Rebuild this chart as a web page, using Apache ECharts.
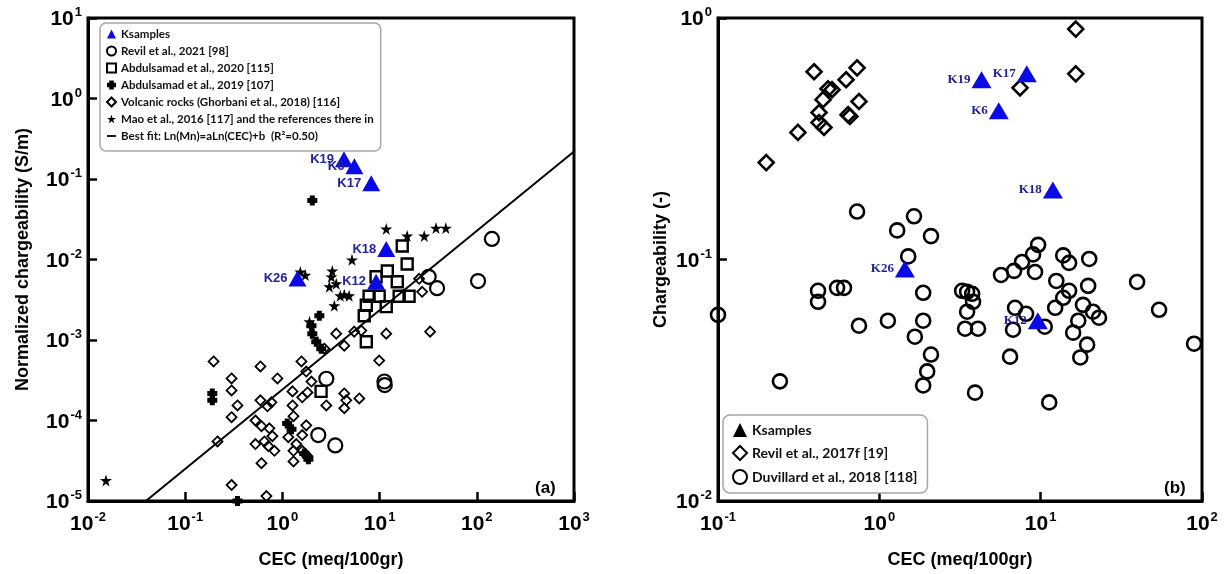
<!DOCTYPE html>
<html>
<head>
<meta charset="utf-8">
<script src="https://cdn.jsdelivr.net/npm/echarts@6/dist/echarts.min.js"></script>
<style>
html,body{margin:0;padding:0;background:#fff;}
#c{width:1228px;height:574px;}
</style>
</head>
<body>
<div id="c"></div>
<script>
// ---------- Panel (a) data : [CEC (meq/100gr), normalized chargeability (S/m)] ----------
const ksNamesA = ['K19','K6','K17','K18','K12','K26'];
const ksamplesA = [[4.3,0.176],[5.5,0.144],[8.2,0.0887],[11.7,0.0135],[9.2,0.0053],[1.43,0.0058]];
const revil2021 = [[143,0.018],[103,0.0054],[32,0.0061],[39,0.0044],[2.83,3.3e-4],[2.34,6.6e-5],[3.5,4.9e-5],[11.2,3.05e-4],[11.3,2.75e-4]];
const abdul2020 = [[17.1,0.0147],[19.2,0.0088],[12.0,0.0072],[9.2,0.0061],[15.2,0.0053],[20.1,0.0035],[15.9,0.0035],[7.8,0.0035],[9.9,0.0035],[7.3,0.0027],[11.7,0.0026],[6.95,0.002],[7.3,9.5e-4],[2.5,2.3e-4]];
const abdul2019 = [[2.03,0.054],[0.19,2.17e-4],[0.19,1.78e-4],[1.12,9.2e-5],[1.24,7.8e-5],[0.345,1.0e-5],[2.4,2.0e-3],[1.99,1.5e-3],[2.03,1.2e-3],[2.23,9.5e-4],[2.51,7.8e-4],[1.68,3.9e-5],[1.85,3.3e-5]];
const volcanic = [[0.196,5.41e-4],[0.594,4.69e-4],[0.30,3.33e-4],[0.30,2.36e-4],[0.345,1.54e-4],[0.30,1.10e-4],[0.215,5.5e-5],[0.594,1.78e-4],[0.889,3.33e-4],[1.57,5.41e-4],[1.76,4.06e-4],[0.702,1.50e-4],[0.528,1.00e-4],[0.609,8.5e-5],[0.735,8.0e-5],[0.528,5.1e-5],[0.653,5.5e-5],[0.789,6.4e-5],[0.718,4.8e-5],[0.828,4.2e-5],[0.609,2.95e-5],[0.30,1.58e-5],[0.685,1.15e-5],[1.27,2.30e-4],[1.60,1.94e-4],[1.27,1.54e-4],[1.30,1.13e-4],[1.15,6.2e-5],[1.60,6.6e-5],[1.39,5.1e-5],[1.30,4.2e-5],[1.30,3.1e-5],[1.81,3.6e-5],[1.76,8.7e-5],[1.81,2.23e-4],[2.83,1.54e-4],[4.33,2.17e-4],[4.54,1.78e-4],[4.33,1.42e-4],[6.18,1.88e-4],[1.99,3.05e-4],[3.58,1.20e-3],[6.48,1.31e-3],[11.7,1.20e-3],[27.4,3.97e-3],[33.1,1.27e-3],[9.9,5.56e-4],[5.48,1.27e-3],[4.33,8.5e-4],[2.70,7.8e-4],[25.5,5.75e-3],[1.60,4.2e-5],[0.771,1.68e-4]];
const mao2016 = [[0.0153,1.8e-5],[11.7,0.024],[19.2,0.0196],[28.8,0.0196],[38,0.0246],[48,0.0246],[5.2,0.0099],[1.53,0.007],[1.72,0.0064],[3.26,0.0072],[3.19,0.0061],[3.04,0.0046],[3.58,0.005],[4.33,0.00365],[4.86,0.00355],[3.94,0.00355],[3.42,0.00267],[1.9,0.00169]];
const bestFit = [[0.0394,1e-5],[1000,0.22]];

// ---------- Panel (b) data : [CEC (meq/100gr), chargeability (-)] ----------
const ksNamesB = ['K19','K6','K17','K18','K26','K12'];
const ksamplesB = [[4.3,0.555],[5.5,0.413],[8.2,0.587],[11.9,0.194],[1.44,0.0914],[9.6,0.0558]];
const revil2017f = [[0.394,0.599],[0.728,0.622],[0.622,0.555],[0.481,0.509],[0.509,0.505],[0.448,0.459],[0.748,0.451],[0.423,0.406],[0.640,0.398],[0.657,0.391],[0.423,0.369],[0.454,0.352],[0.313,0.336],[0.199,0.252],[16.5,0.90],[16.5,0.587],[7.45,0.514]];
const duvillard = [[0.728,0.158],[1.29,0.132],[1.64,0.151],[2.09,0.125],[1.51,0.103],[0.417,0.0742],[0.417,0.0668],[0.547,0.0763],[0.604,0.0763],[1.87,0.0728],[0.1,0.059],[0.748,0.0532],[1.13,0.0558],[1.87,0.0558],[1.66,0.0479],[2.09,0.0404],[1.98,0.0344],[1.87,0.0301],[0.242,0.0313],[3.26,0.0742],[3.50,0.0735],[3.76,0.0721],[3.81,0.0668],[3.50,0.0608],[3.40,0.0517],[4.09,0.0517],[3.92,0.0281],[6.46,0.0396],[6.74,0.0512],[6.94,0.0631],[8.12,0.0596],[10.6,0.0527],[12.3,0.0631],[5.68,0.0863],[6.84,0.0897],[7.67,0.0977],[8.97,0.105],[9.64,0.115],[9.23,0.0888],[12.5,0.0815],[11.3,0.0256],[13.8,0.104],[15.0,0.0968],[20.0,0.1005],[15.0,0.0742],[13.8,0.0694],[19.7,0.0778],[18.3,0.0649],[21.1,0.0608],[23.0,0.0574],[17.1,0.0558],[15.9,0.0498],[19.4,0.0444],[17.6,0.0393],[39.6,0.0807],[54.2,0.0619],[89.3,0.0448]];

// ---------- styles ----------
const FONT = "'Liberation Sans', Arial, sans-serif";
const STAR = 'path://M50,0 L61,35 L98,35 L68,57 L79,91 L50,70 L21,91 L32,57 L2,35 L39,35 Z';
const CROSS = 'path://M25,0 H75 V25 H100 V75 H75 V100 H25 V75 H0 V25 H25 Z';
const DASH = 'path://M0,0 M100,100 M0,40 L100,40 L100,60 L0,60 Z';
const BLUE = '#0a0ae6';
const open = (w) => ({color:'rgba(255,255,255,0)', borderColor:'#000', borderWidth:w, opacity:1});

function powLabel(v){
  const e = Math.round(Math.log10(v));
  return '{b|10}{s|' + e + '}';
}
const richLbl = {
  b:{fontSize:21, fontFamily:FONT, fontWeight:'bold', color:'#000', lineHeight:24, verticalAlign:'bottom'},
  s:{fontSize:13, fontFamily:FONT, fontWeight:'bold', color:'#000', lineHeight:24, verticalAlign:'top', padding:[0,0,0,1]}
};
function axisCommon(){
  return {
    type:'log', logBase:10,
    axisLine:{show:true, onZero:false, lineStyle:{color:'#000', width:3}},
    axisTick:{show:true, inside:true, length:9, lineStyle:{color:'#000', width:2.5}},
    splitLine:{show:false},
    minorTick:{show:false},
    axisLabel:{formatter:powLabel, rich:richLbl, showMinLabel:true, showMaxLabel:true, hideOverlap:false},
    nameLocation:'middle',
    nameTextStyle:{fontFamily:FONT, fontSize:18, fontWeight:'bold', color:'#000'}
  };
}

const xA = Object.assign(axisCommon(), {gridIndex:0, min:0.01, max:1000, name:'CEC (meq/100gr)', nameGap:50});
xA.axisLabel = Object.assign({}, xA.axisLabel, {margin:10});
const yA = Object.assign(axisCommon(), {gridIndex:0, min:1e-5, max:10, name:'Normalized chargeability (S/m)', nameGap:56});
yA.axisLabel = Object.assign({}, yA.axisLabel, {margin:6});
const xB = Object.assign(axisCommon(), {gridIndex:1, min:0.1, max:100, name:'CEC (meq/100gr)', nameGap:50});
xB.axisLabel = Object.assign({}, xB.axisLabel, {margin:10});
const yB = Object.assign(axisCommon(), {gridIndex:1, min:0.01, max:1, name:'Chargeability (-)', nameGap:48});
yB.axisLabel = Object.assign({}, yB.axisLabel, {margin:6});

const kLabelA = {show:true, position:'left', distance:1, formatter:'{b}', color:'#24249e', fontFamily:FONT, fontWeight:'bold', fontSize:13};
const kLabelB = {show:true, position:'left', distance:1, formatter:'{b}', color:'#1e1e96', fontFamily:"'Liberation Serif', 'Times New Roman', serif", fontWeight:'bold', fontSize:13};

const option = {
  animation:false,
  backgroundColor:'#fff',
  grid:[
    {left:88, top:18, width:486, height:485, show:true, borderColor:'#000', borderWidth:3, backgroundColor:'transparent'},
    {left:718, top:18, width:484, height:485, show:true, borderColor:'#000', borderWidth:3, backgroundColor:'transparent'}
  ],
  xAxis:[xA, xB],
  yAxis:[yA, yB],
  legend:[
    {
      left:100, top:23, orient:'vertical',
      itemWidth:9, itemHeight:9, itemGap:5,
      padding:[5,7,9,6],
      backgroundColor:'#fff', borderColor:'#a8a8a8', borderWidth:1.5, borderRadius:6,
      textStyle:{fontFamily:"Lato, 'Open Sans', sans-serif", fontWeight:'bold', fontSize:11.5, lineHeight:12, color:'#111'},
      data:[
        {name:'Ksamples'},
        {name:'Revil et al., 2021 [98]'},
        {name:'Abdulsamad et al., 2020 [115]'},
        {name:'Abdulsamad et al., 2019 [107]'},
        {name:'Volcanic rocks (Ghorbani et al., 2018) [116]'},
        {name:'Mao et al., 2016 [117] and the references there in'},
        {name:'Best fit: Ln(Mn)=aLn(CEC)+b  (R²=0.50)', icon:DASH}
      ]
    },
    {
      left:723, top:415, orient:'vertical',
      itemWidth:14, itemHeight:14, itemGap:8,
      padding:[8,10,8,9],
      backgroundColor:'#fff', borderColor:'#a8a8a8', borderWidth:1.5, borderRadius:7,
      textStyle:{fontFamily:"Lato, 'Open Sans', sans-serif", fontWeight:'bold', fontSize:14, lineHeight:14, color:'#111'},
      data:[
        {name:'Ksamples', itemStyle:{color:'#000'}},
        {name:'Revil et al., 2017f [19]'},
        {name:'Duvillard et al., 2018 [118]'}
      ]
    }
  ],
  series:[
    {name:'Volcanic rocks (Ghorbani et al., 2018) [116]', type:'scatter', xAxisIndex:0, yAxisIndex:0,
      symbol:'diamond', symbolSize:10, itemStyle:open(1.8), data:volcanic},
    {name:'Abdulsamad et al., 2020 [115]', type:'scatter', xAxisIndex:0, yAxisIndex:0,
      symbol:'rect', symbolSize:11, itemStyle:open(2.4), data:abdul2020},
    {name:'Revil et al., 2021 [98]', type:'scatter', xAxisIndex:0, yAxisIndex:0,
      symbol:'circle', symbolSize:14, itemStyle:open(2.2), data:revil2021},
    {name:'Abdulsamad et al., 2019 [107]', type:'scatter', xAxisIndex:0, yAxisIndex:0,
      symbol:CROSS, symbolSize:10, itemStyle:{color:'#000', opacity:1}, data:abdul2019},
    {name:'Mao et al., 2016 [117] and the references there in', type:'scatter', xAxisIndex:0, yAxisIndex:0,
      symbol:STAR, symbolSize:12, itemStyle:{color:'#000', opacity:1}, data:mao2016},
    {name:'Best fit: Ln(Mn)=aLn(CEC)+b  (R²=0.50)', type:'line', xAxisIndex:0, yAxisIndex:0,
      symbol:'none', lineStyle:{color:'#000', width:2}, itemStyle:{color:'#000'}, data:bestFit},
    {name:'Ksamples', type:'scatter', xAxisIndex:0, yAxisIndex:0,
      symbol:'triangle', symbolSize:[18,16], itemStyle:{color:BLUE, opacity:1}, label:kLabelA,
      data:ksamplesA.map((p,i)=>({name:ksNamesA[i], value:p}))},

    {name:'Revil et al., 2017f [19]', type:'scatter', xAxisIndex:1, yAxisIndex:1,
      symbol:'diamond', symbolSize:15, itemStyle:open(2.6), data:revil2017f},
    {name:'Duvillard et al., 2018 [118]', type:'scatter', xAxisIndex:1, yAxisIndex:1,
      symbol:'circle', symbolSize:14, itemStyle:open(2.6), data:duvillard},
    {name:'Ksamples', type:'scatter', xAxisIndex:1, yAxisIndex:1,
      symbol:'triangle', symbolSize:[20,17], itemStyle:{color:BLUE, opacity:1}, label:kLabelB,
      data:ksamplesB.map((p,i)=>({name:ksNamesB[i], value:p}))}
  ],
  graphic:[
    {type:'text', left:535, top:480, style:{text:'(a)', font:"bold 17px 'Liberation Sans', Arial", fill:'#000'}},
    {type:'text', left:1164, top:480, style:{text:'(b)', font:"bold 17px 'Liberation Sans', Arial", fill:'#000'}}
  ]
};
const chart = echarts.init(document.getElementById('c'), null, {renderer:'canvas'});
chart.setOption(option);
</script>
</body>
</html>
